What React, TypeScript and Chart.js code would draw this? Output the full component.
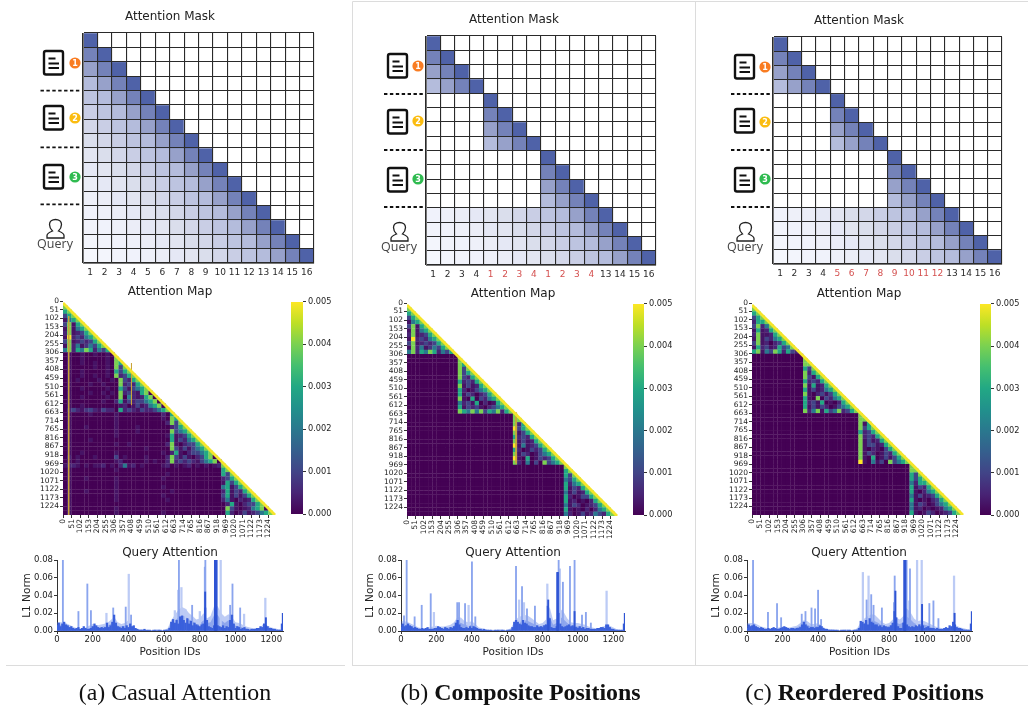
import React, { useEffect, useRef } from "react";
import { Chart, registerables } from "chart.js";
Chart.register(...registerables);

const FONT = "'DejaVu Sans'";

// ---------- Attention masks: hex digit = shade index (distance from diagonal), '.' = white
const maskShades = ["#4f62a8", "#7482b9", "#97a1ca", "#b4bcdc", "#bdc4e0", "#c9cee5", "#d3d7e9", "#dadeec", "#e2e5f1", "#e5e8f5", "#ebedf7", "#eef0f9", "#f0f2fb", "#f1f3fb", "#f3f5fc", "#f5f7fd"];
const maskRowsA = ["0...............", "10..............", "210.............", "3210............", "43210...........", "543210..........", "6543210.........", "76543210........", "876543210.......", "9876543210......", "a9876543210.....", "ba9876543210....", "cba9876543210...", "dcba9876543210..", "edcba9876543210.", "fedcba9876543210"];
const maskRowsB = ["0...............", "10..............", "210.............", "3210............", "....0...........", "....10..........", "....210.........", "....3210........", "........0.......", "........10......", "........210.....", "........3210....", "cba9876543210...", "dcba9876543210..", "edcba9876543210.", "fedcba9876543210"];
const maskLabelsA = ["1", "2", "3", "4", "5", "6", "7", "8", "9", "10", "11", "12", "13", "14", "15", "16"];
const maskLabelsB = ["1", "2", "3", "4", "1", "2", "3", "4", "1", "2", "3", "4", "13", "14", "15", "16"];
const maskLabelsC = ["1", "2", "3", "4", "5", "6", "7", "8", "9", "10", "11", "12", "13", "14", "15", "16"];
const INK = "#2a2a2a";
const RED = "#d4504f";
const maskLabelColorsA = Array(16).fill(INK);
const maskLabelColorsB = [INK, INK, INK, INK, RED, RED, RED, RED, RED, RED, RED, RED, INK, INK, INK, INK];

// ---------- Attention maps: digit = value in 0.001 units (a/b/c = 0.25/0.5/0.75), 25.5-position bins
const heatLevels: Record<string, number> = { "0": 0, a: 0.25, b: 0.5, c: 0.75, "1": 1, "2": 2, "3": 3, "4": 4, "5": 5 };
const heatTicks = [0, 51, 102, 153, 204, 255, 306, 357, 408, 459, 510, 561, 612, 663, 714, 765, 816, 867, 918, 969, 1020, 1071, 1122, 1173, 1224];
const heatRowsA = [
  "", "4", "34", "134", "a234", "14a34", "a4a234", "b4ab134", "a5b1b234", "14ab1b134", "a4b2ac2134", "24b3243b213",
  "0a00a00a00a0",
  "0a00a00000a04", "0a00a00a00a043", "0a00000a00a0414", "0a00a00000a03134", "0a00a00a00a04b134", "0a0a0000a00a041b34", "0a0000a00a0004b1b34", "0a00a00000a0031a1234", "0a0000a00a0a04b1ba34", "0a00a00000a00402bab34", "0a0000000a00b3a1b11234", "0a00a00000000ab0a1ab234", "0b1bac1ba1bb03b1ba1bb1234",
  "0a0000a00000a0000000000b03",
  "0a0000000000a0000000000a043", "0a0000000000a00000000000b414", "0a000a000000a0000a0000000b134", "0a0000000000a0000a000000041234", "0a0000000000a00000000000a3ab134", "0a0000a0000000000000000003a1b234", "0a0000000000a00a00000000b4a0b1134", "0a00000000000000000a0000041a1a1234", "0a00a0000000a0000000000a0b3a0b11234", "0b0a000a000010a0000a0000b41a1a0b134", "0a0a00000000ab00000a0a00b4b1b1ba1234",
  "abba0a0aab0a0b2ab0a0000ab0a0ab0a0a0ab4", "0a0000000000a00000000000000000000000034", "0a0000000000000000000000a000000000000314", "0a000a000000a0000000000a0000000000000b134", "0a0000000000a000000000000000000000000a3134", "0a0000000000a0000000000a000000000000023a134", "0a000a000000a000000000000a00000000000b3a1b34", "0a0000000000a0000000000a000000000000013a1a134", "0a0000000000a00000000000a000000000000b2a0bab34", "0a000000000000000000000000000000000000b3a0b1134", "0a0000000000a000000000000000000000000041a0ab234", "0a0000000000a0000000000a000000000000003b0a1ab1234",
];
const heatRowsB = [
  "", "4", "34", "134", "a234", "14a34", "a4a234", "b4ab134", "a5b1b234", "14ab1b134", "a4b2ac2134", "24b3243b213",
  "",
  "4", "43", "414", "4134", "41b34", "3b1b34", "4a1ab34", "3b0a1234", "3a1b0b134", "4a0301b234", "2b1a30b0a34", "3a1b1a0b1234", "4324241324b34",
  "4", "44", "4b3", "5134", "4a134", "3b1b34", "4a1ab34", "5a2ab134", "3b0a1b134", "4a1b0a1234", "5a030a1b134", "4b0201041234",
  "4", "34", "314", "2134", "3b234", "3a1b34", "2a1ab34", "3b0a1134", "3ab0a0b34", "2a1b0ab134", "3a0a0b0b234", "2b0a1ab21b34",
];
const heatRowsC = [
  "", "4", "34", "134", "b334", "14b24", "a3ab34", "b4aab34", "a4a1b234", "14ab0b134", "a3b1ab3124", "34a2143b31b",
  "",
  "4", "44", "314", "4b34", "41a34", "3b1b34", "4a3ab34", "3a1ab234", "4a0b1a134", "3a0401b234", "3b1a30a0b34", "3a1a1b0a1234", "4b24a3124b134",
  "4", "44", "4a3", "4134", "3b134", "4b1b34", "4a1ab34", "4a11ab34", "4a0ba0134", "4a1b0a1b34", "4a030a1a134", "5a02a1041234",
  "4", "44", "314", "3134", "2b334", "3a1b34", "3a0b234", "2a1ab134", "3a0a0b134", "2a1b0a1234", "2ab0a0ab234", "3a0a1b0ab134",
];
const viridisStops = ["#440154", "#482475", "#414487", "#355f8d", "#2a788e", "#21918c", "#22a884", "#44bf70", "#7ad151", "#bddf26", "#fde725"];
const streakA = [[34, 90], [34, 1275]];
const streakA2 = [[408, 370], [408, 620]];
const streakB = [[656, 655], [656, 960]];
const diagonalBand = [[0, 12], [1263, 1275]];

// ---------- Query attention, units of 0.001
const envelopeA = [10, 10, 10, 8, 6, 4, 3, 2, 4, 6, 8, 6, 7, 8, 9, 12, 16, 10, 8, 9, 12, 6, 3, 2, 2, 1, 1, 1, 2, 1, 1, 3, 12, 18, 24, 27, 25, 20, 17, 13, 14, 20, 14, 17, 28, 28, 20, 16, 19, 16, 10, 9, 7, 5, 4, 3, 3, 4, 9, 6, 4, 3, 2, 1];
const envelopeB = [11, 11, 10, 8, 6, 4, 3, 3, 4, 5, 6, 5, 5, 6, 7, 10, 16, 15, 11, 10, 11, 8, 4, 3, 2, 1, 1, 1, 2, 1, 1, 3, 10, 15, 17, 18, 17, 14, 11, 8, 9, 13, 27, 12, 14, 25, 21, 14, 10, 9, 9, 8, 7, 5, 4, 3, 3, 5, 6, 6, 4, 2, 1, 1];
const envelopeC = [9, 9, 9, 7, 5, 4, 3, 2, 3, 4, 5, 4, 4, 5, 6, 9, 12, 11, 8, 8, 9, 6, 3, 2, 2, 1, 1, 1, 2, 1, 1, 3, 10, 14, 17, 19, 18, 14, 10, 8, 9, 13, 15, 13, 17, 25, 21, 14, 11, 12, 11, 9, 7, 5, 4, 3, 3, 4, 6, 6, 4, 3, 2, 1];
const innerA = [7, 7, 6, 5, 4, 3, 2, 1, 2, 3, 5, 4, 4, 5, 5, 8, 11, 6, 5, 5, 7, 4, 2, 1, 1, 1, 0, 0, 1, 0, 0, 2, 8, 12, 15, 18, 16, 13, 11, 8, 8, 12, 9, 10, 18, 18, 12, 9, 12, 10, 6, 5, 4, 3, 2, 2, 2, 3, 5, 4, 2, 2, 1, 1];
const innerB = [7, 7, 6, 5, 4, 3, 2, 2, 2, 3, 4, 3, 3, 4, 4, 6, 10, 9, 7, 6, 7, 5, 2, 2, 1, 1, 0, 0, 1, 0, 0, 2, 6, 9, 11, 12, 11, 9, 7, 5, 6, 8, 16, 7, 9, 16, 13, 9, 6, 6, 5, 5, 4, 3, 2, 2, 2, 3, 4, 4, 2, 1, 1, 0];
const innerC = [6, 6, 6, 4, 3, 2, 2, 1, 2, 3, 3, 3, 3, 3, 4, 6, 8, 7, 5, 5, 6, 4, 2, 1, 1, 1, 0, 0, 1, 0, 0, 2, 6, 9, 11, 12, 11, 9, 6, 5, 6, 8, 9, 8, 10, 16, 13, 9, 7, 8, 7, 6, 4, 3, 2, 2, 2, 3, 4, 4, 2, 2, 1, 0];
const darkA = [6, 9, 5, 8, 10, 7, 6, 4, 5, 3, 2, 3, 4, 2, 3, 5, 3, 2, 2, 3, 5, 8, 6, 4, 3, 4, 3, 4, 9, 4, 6, 10, 18, 9, 5, 4, 3, 5, 3, 6, 4, 8, 5, 6, 3, 2, 1, 1, 1, 2, 1, 1, 1, 0, 1, 1, 0, 1, 1, 0, 1, 1, 1, 3, 10, 13, 9, 12, 8, 16, 17, 12, 9, 14, 8, 11, 6, 9, 7, 6, 5, 7, 8, 26, 12, 5, 4, 3, 6, 17, 6, 5, 4, 6, 3, 5, 4, 12, 18, 8, 3, 5, 4, 2, 3, 4, 2, 2, 1, 2, 2, 2, 3, 3, 5, 4, 8, 6, 5, 3, 3, 2, 2, 1, 1, 1, 8];
const darkB = [4, 8, 5, 6, 8, 6, 5, 3, 4, 3, 2, 2, 3, 2, 3, 4, 2, 2, 2, 3, 3, 5, 4, 3, 2, 4, 3, 2, 4, 3, 5, 9, 12, 7, 4, 3, 3, 4, 3, 5, 3, 5, 4, 3, 2, 2, 1, 2, 1, 1, 1, 1, 0, 1, 1, 1, 0, 1, 1, 0, 1, 1, 1, 4, 10, 12, 10, 8, 7, 12, 9, 8, 6, 5, 5, 4, 4, 6, 4, 5, 4, 6, 7, 28, 14, 4, 3, 3, 5, 20, 8, 5, 4, 5, 6, 7, 5, 6, 4, 4, 3, 5, 3, 4, 2, 3, 3, 2, 2, 2, 2, 3, 3, 4, 4, 3, 7, 7, 4, 2, 2, 1, 1, 1, 1, 1, 8];
const darkC = [3, 7, 5, 6, 7, 5, 4, 3, 4, 3, 2, 2, 3, 2, 3, 4, 3, 2, 2, 3, 4, 5, 4, 3, 2, 3, 3, 2, 3, 3, 4, 7, 10, 7, 5, 3, 4, 4, 3, 4, 4, 6, 5, 3, 2, 2, 1, 1, 1, 1, 1, 1, 0, 1, 1, 1, 0, 1, 1, 0, 1, 1, 1, 3, 11, 10, 8, 12, 7, 14, 10, 9, 7, 7, 5, 6, 4, 6, 5, 4, 4, 6, 9, 22, 15, 5, 3, 3, 9, 25, 7, 5, 4, 5, 4, 6, 5, 7, 5, 6, 3, 4, 5, 3, 3, 3, 2, 3, 2, 2, 2, 3, 4, 3, 6, 5, 10, 7, 4, 3, 3, 2, 1, 1, 1, 1, 8];
const spikesMidA = [[33, 80], [120, 22], [170, 53], [190, 23], [315, 26], [385, 27], [415, 18], [683, 80], [680, 46], [757, 29], [831, 80], [828, 72], [970, 29], [983, 53], [1026, 26]];
const spikesLightA = [[277, 20], [402, 64], [697, 49], [800, 22], [917, 80], [1048, 19], [1167, 37], [660, 23], [720, 24]];
const spikesDarkA = [[885, 80], [888, 80], [891, 80], [894, 80], [1265, 20], [830, 44], [1170, 15]];
const spikesMidB = [[32, 80], [17, 17], [77, 16], [117, 29], [168, 42], [318, 32], [328, 32], [362, 31], [401, 78], [420, 16], [650, 73], [684, 50], [712, 25], [757, 28], [891, 80], [915, 55], [955, 73], [981, 80], [1023, 18], [1045, 21], [1073, 9]];
const spikesLightB = [[186, 21], [382, 29], [668, 35], [695, 32], [827, 53], [898, 70], [1162, 45]];
const spikesDarkB = [[832, 35], [883, 66], [887, 66], [1265, 20], [981, 22]];
const spikesMidC = [[34, 80], [118, 21], [169, 31], [192, 15], [308, 19], [329, 22], [363, 26], [383, 25], [400, 46], [417, 13], [673, 35], [699, 41], [712, 29], [759, 26], [827, 32], [831, 62], [898, 80], [917, 70], [914, 34], [1026, 31], [1049, 34], [1077, 14]];
const spikesLightC = [[652, 66], [684, 62], [957, 80], [983, 80], [1165, 62]];
const spikesDarkC = [[835, 45], [885, 80], [888, 80], [891, 80], [1168, 20], [985, 30], [1265, 22]];

function viridis(t: number) {
  const p = Math.max(0, Math.min(0.9999, t)) * (viridisStops.length - 1);
  const i = Math.floor(p); const f = p - i;
  const rgb = (h: string) => [1, 3, 5].map((k) => parseInt(h.slice(k, k + 2), 16));
  const a = rgb(viridisStops[i]); const b = rgb(viridisStops[i + 1]);
  return `rgb(${a.map((v, k) => Math.round(v + (b[k] - v) * f)).join(",")})`;
}
type Box = { L: number; R: number; T: number; B: number; pl: number; pt: number; pr: number; pb: number };

function fixAxisW(w: number) { return (s: any) => { s.width = w; }; }
function fixAxisH(h: number) { return (s: any) => { s.height = h; }; }
// empty right-hand axis: reserves room without narrowing the title's box
function spacer(w: number) {
  return { position: "right", display: true, grid: { display: false }, border: { display: false }, ticks: { display: false }, afterFit: fixAxisW(w) };
}

function maskConfig(rows: string[], labels: string[], labelColors: string[], b: Box) {
  return {
    type: "bar",
    data: {
      labels,
      datasets: rows.map((row) => ({
        data: row.split("").map(() => 1),
        backgroundColor: row.split("").map((ch) => (ch === "." ? "#ffffff" : maskShades[parseInt(ch, 16)])),
        borderWidth: 0, categoryPercentage: 1, barPercentage: 1,
      })),
    },
    options: {
      animation: false, responsive: false,
      plugins: { legend: { display: false }, tooltip: { enabled: false },
        title: { display: true, text: "Attention Mask", color: "#222", font: { family: FONT, size: 12, weight: "normal", lineHeight: 1 }, padding: { top: 11, bottom: b.pt - 23 } } },
      scales: {
        x: { stacked: true, grid: { color: "#2a2a2a", lineWidth: 1.1, z: 1, drawTicks: false }, border: { color: "#777", width: 1, z: 2 },
          ticks: { color: (c: any) => labelColors[c.index], font: { family: FONT, size: 9, weight: "normal" }, padding: 4, maxRotation: 0, autoSkip: false }, afterFit: fixAxisH(b.pb) },
        y: { stacked: true, reverse: true, min: 0, max: 16, grid: { color: "#2a2a2a", lineWidth: 1.1, z: 1, drawTicks: false }, border: { color: "#777", width: 1, z: 2 },
          ticks: { display: false, stepSize: 1 }, afterFit: fixAxisW(b.pl) },
        spare: spacer(b.pr),
      },
    },
  };
}

function heatConfig(rows: string[], fullRows: boolean, streaks: number[][][], b: Box) {
  const pts: any[] = []; const colors: string[] = [];
  rows.forEach((row, r) => {
    const cells = (fullRows ? row.padEnd(r, "0") : row.padStart(r, "0")).slice(0, r);
    cells.split("").forEach((ch, c) => {
      pts.push({ x: (c + 0.5) * 25.5, y: (r + 0.5) * 25.5 });
      colors.push(viridis(((heatLevels[ch] ?? 0) * 0.001) / 0.005));
    });
  });
  const lineSet = (p: number[][], col: string, w: number) => ({ data: p.map(([x, y]) => ({ x, y })), showLine: true, pointRadius: 0, borderColor: col, borderWidth: w, fill: false });
  return {
    type: "scatter",
    data: {
      datasets: [
        lineSet(diagonalBand, "#f6e52a", 2.8),
        ...streaks.map((s) => lineSet(s, "#c9a43c", 1)),
        { data: pts, pointStyle: "rect", pointRadius: 3.2, pointHoverRadius: 3.2, pointBorderWidth: 0, pointBackgroundColor: colors, showLine: false },
      ],
    },
    options: {
      animation: false, responsive: false,
      plugins: { legend: { display: false }, tooltip: { enabled: false },
        title: { display: true, text: "Attention Map", color: "#222", font: { family: FONT, size: 12, weight: "normal", lineHeight: 1 }, padding: { top: 3, bottom: b.pt - 15 } } },
      scales: {
        x: { type: "linear", min: 0, max: 1275, grid: { drawOnChartArea: false, tickLength: 3, color: "#333" }, border: { display: false },
          afterBuildTicks: (s: any) => { s.ticks = heatTicks.map((value) => ({ value })); },
          ticks: { autoSkip: false, minRotation: 90, maxRotation: 90, color: "#222", font: { family: FONT, size: 7.5 }, padding: 1, callback: (v: any) => String(v) }, afterFit: fixAxisH(b.pb) },
        y: { type: "linear", reverse: true, min: 0, max: 1275, grid: { drawOnChartArea: false, tickLength: 3, color: "#333" }, border: { display: false },
          afterBuildTicks: (s: any) => { s.ticks = heatTicks.map((value) => ({ value })); },
          ticks: { autoSkip: false, color: "#222", font: { family: FONT, size: 7.5 }, padding: 1, callback: (v: any) => String(v) }, afterFit: fixAxisW(b.pl) },
        spare: spacer(b.pr),
      },
    },
  };
}

function colorbarConfig(b: Box) {
  return {
    type: "bar",
    data: {
      labels: [""],
      datasets: [{
        data: [0.005], categoryPercentage: 1, barPercentage: 1, borderWidth: 0,
        backgroundColor: (c: any) => {
          const a = c.chart.chartArea;
          if (!a) return "#440154";
          const g = c.chart.ctx.createLinearGradient(0, a.bottom, 0, a.top);
          viridisStops.forEach((s, i) => g.addColorStop(i / (viridisStops.length - 1), s));
          return g;
        },
      }],
    },
    options: {
      animation: false, responsive: false,
      layout: { padding: { left: b.pl, top: b.pt } },
      plugins: { legend: { display: false }, tooltip: { enabled: false } },
      scales: {
        x: { display: false },
        y: { position: "right", min: 0, max: 0.005, grid: { drawOnChartArea: false, tickLength: 3, color: "#333" }, border: { display: false },
          ticks: { stepSize: 0.001, color: "#222", font: { family: FONT, size: 8.2 }, padding: 2, callback: (v: any) => Number(v).toFixed(3) }, afterFit: fixAxisW(b.pr) },
      },
    },
  };
}

function queryConfig(env: number[], inner: number[], dark: number[], mid: number[][], light: number[][], hard: number[][], b: Box) {
  const pairs = (p: number[][]) => p.map(([x, y]) => ({ x, y: y / 1000 }));
  const bar = (p: any[], col: string, w: number, order: number) => ({ type: "bar", data: p, backgroundColor: col, barThickness: w, borderWidth: 0, order, grouped: false });
  const area = (vals: number[], col: string, order: number) => ({ type: "line", data: vals.map((v, i) => ({ x: i * 20, y: v / 1000 })), borderWidth: 0, pointRadius: 0, fill: "origin", backgroundColor: col, order, tension: 0 });
  return {
    type: "bar",
    data: {
      datasets: [
        bar(pairs(hard), "#2f55d4", 1.3, 1),
        bar(dark.map((v, i) => ({ x: i * 10, y: v / 1000 })), "#3a60dc", 1.6, 2),
        bar(pairs(mid), "#8ba5ee", 1.2, 3),
        bar(pairs(light), "#bccbf5", 1.6, 4),
        area(inner, "rgba(65,105,225,0.38)", 5),
        area(env, "rgba(65,105,225,0.34)", 6),
      ],
    },
    options: {
      animation: false, responsive: false,
      plugins: { legend: { display: false }, tooltip: { enabled: false },
        title: { display: true, text: "Query Attention", color: "#222", font: { family: FONT, size: 12, weight: "normal", lineHeight: 1 }, padding: { top: 3, bottom: b.pt - 15 } } },
      scales: {
        x: { type: "linear", offset: false, min: 0, max: 1266, grid: { offset: false, drawOnChartArea: false, tickLength: 3, color: "#333" }, border: { color: "#333" },
          ticks: { stepSize: 200, includeBounds: false, maxRotation: 0, color: "#222", font: { family: FONT, size: 8.5 }, padding: 1, callback: (v: any) => String(v) },
          title: { display: true, text: "Position IDs", color: "#222", font: { family: FONT, size: 10.5 }, padding: 0 }, afterFit: fixAxisH(b.pb) },
        y: { min: 0, max: 0.08, grid: { drawOnChartArea: false, tickLength: 3, color: "#333" }, border: { color: "#333" },
          ticks: { stepSize: 0.02, color: "#222", font: { family: FONT, size: 8.5 }, padding: 1, callback: (v: any) => Number(v).toFixed(2) },
          title: { display: true, text: "L1 Norm", color: "#222", font: { family: FONT, size: 10.5 }, padding: { top: 11, bottom: 0 } }, afterFit: fixAxisW(b.pl) },
        spare: spacer(b.pr),
      },
    },
  };
}

const cfgs: { box: Box; make: (b: Box) => any }[] = [
  { box: { L: 20, R: 320, T: 0, B: 285, pl: 63, pr: 6, pt: 33, pb: 22 }, make: (b) => maskConfig(maskRowsA, maskLabelsA, maskLabelColorsA, b) },
  { box: { L: 365, R: 663, T: 3, B: 288, pl: 61, pr: 7, pt: 33, pb: 23 }, make: (b) => maskConfig(maskRowsB, maskLabelsB, maskLabelColorsB, b) },
  { box: { L: 710, R: 1008, T: 4, B: 288, pl: 63, pr: 6, pt: 33, pb: 24 }, make: (b) => maskConfig(maskRowsB, maskLabelsC, maskLabelColorsB, b) },
  { box: { L: 20, R: 320, T: 283, B: 548, pl: 43, pr: 43, pt: 18, pb: 33 }, make: (b) => heatConfig(heatRowsA, true, [streakA, streakA2], b) },
  { box: { L: 365, R: 661, T: 285, B: 548, pl: 42, pr: 42, pt: 18, pb: 32 }, make: (b) => heatConfig(heatRowsB, false, [streakB], b) },
  { box: { L: 709, R: 1009, T: 285, B: 548, pl: 43, pr: 44, pt: 18, pb: 33 }, make: (b) => heatConfig(heatRowsC, false, [], b) },
  { box: { L: 285, R: 345, T: 295, B: 521, pl: 6, pr: 42, pt: 6, pb: 6 }, make: colorbarConfig },
  { box: { L: 627, R: 687, T: 297, B: 522, pl: 6, pr: 43, pt: 6, pb: 6 }, make: colorbarConfig },
  { box: { L: 974, R: 1028, T: 297, B: 522, pl: 6, pr: 37, pt: 6, pb: 6 }, make: colorbarConfig },
  { box: { L: 10, R: 330, T: 544, B: 659, pl: 47, pr: 47, pt: 16, pb: 28 }, make: (b) => queryConfig(envelopeA, innerA, darkA, spikesMidA, spikesLightA, spikesDarkA, b) },
  { box: { L: 353, R: 673, T: 544, B: 659, pl: 48, pr: 48, pt: 16, pb: 28 }, make: (b) => queryConfig(envelopeB, innerB, darkB, spikesMidB, spikesLightB, spikesDarkB, b) },
  { box: { L: 699, R: 1019, T: 544, B: 659, pl: 48, pr: 47, pt: 16, pb: 28 }, make: (b) => queryConfig(envelopeC, innerC, darkC, spikesMidC, spikesLightC, spikesDarkC, b) },
];

function ChartBox({ box, make }: { box: Box; make: (b: Box) => any }) {
  const ref = useRef<HTMLCanvasElement | null>(null);
  useEffect(() => {
    const chart = new Chart(ref.current as any, make(box));
    return () => chart.destroy();
  }, []);
  return <canvas ref={ref} width={box.R - box.L} height={box.B - box.T}
    style={{ position: "absolute", left: box.L, top: box.T, width: box.R - box.L, height: box.B - box.T }} />;
}

function Doc({ x, y, cx, cy, color, n }: any) {
  return (
    <g>
      <rect x={x + 1} y={y + 1} width={19} height={23.5} rx={2} fill="#fff" stroke="#111" strokeWidth={2.4} />
      <path d={`M${x + 5.5} ${y + 8.5}H${x + 12.5}M${x + 5.5} ${y + 13.5}H${x + 16}M${x + 5.5} ${y + 18}H${x + 16}`} stroke="#111" strokeWidth={1.9} />
      <circle cx={cx} cy={cy} r={5.6} fill={color} />
      <text x={cx} y={cy + 2.8} textAnchor="middle" fontSize={8} fontWeight="bold" fontFamily={FONT} fill="#fff">{n}</text>
    </g>
  );
}
function Annot({ dx, docX, docY, cx, cy, dots, qx, qy, qty }: any) {
  return (
    <g>
      <Doc x={docX} y={docY[0]} cx={cx} cy={cy[0]} color="#f97c22" n="1" />
      <Doc x={docX} y={docY[1]} cx={cx} cy={cy[1]} color="#fbbc10" n="2" />
      <Doc x={docX} y={docY[2]} cx={cx} cy={cy[2]} color="#2fbb50" n="3" />
      {dots.map((y: number) => <line key={y} x1={dx} x2={dx + 40} y1={y} y2={y} stroke="#111" strokeWidth={1.8} strokeDasharray="3.4 2.5" />)}
      <path d={`M${qx - 9} ${qy + 17}v-2.5c0-2 2-3 5.5-4.5c-2-2-3-4-3-6.5c0-3 2.6-5 6-5c3.4 0 6 2 6 5c0 2.5-1 4.5-3 6.5c3.5 1.5 5.5 2.5 5.5 4.5v2.5z`} fill="none" stroke="#222" strokeWidth={1.3} />
      <text x={qx - 1} y={qty} textAnchor="middle" fontSize={12.5} fontFamily="'Open Sans'" fill="#444">Query</text>
    </g>
  );
}

export default function App() {
  const cap: React.CSSProperties = { position: "absolute", top: 678, fontFamily: "'Liberation Serif'", fontSize: 23.9, color: "#111", whiteSpace: "nowrap", transform: "translateX(-50%)", lineHeight: "28px" };
  return (
    <div style={{ position: "absolute", left: 0, top: 0, width: 1028, height: 709, background: "#fff", overflow: "hidden", filter: "blur(0.5px)" }}>
      {cfgs.map((c, i) => <ChartBox key={i} box={c.box} make={c.make} />)}
      <svg width={1028} height={709} style={{ position: "absolute", left: 0, top: 0, pointerEvents: "none" }}>
        <path d="M6 665.5H345M352.5 665V1.5H1028M352 665.5H695M695.5 1V665M695 665.5H1028" fill="none" stroke="#dcdcdc" strokeWidth={1} />
        <Annot dx={40.5} docX={43} docY={[50, 105, 164]} cx={75} cy={[63, 118, 177]} dots={[90.7, 147.3, 204.3]} qx={56} qy={221} qty={248} />
        <Annot dx={384} docX={387} docY={[53, 109, 167]} cx={418} cy={[66, 121, 179]} dots={[94, 150, 207]} qx={400} qy={224} qty={251} />
        <Annot dx={731} docX={734} docY={[54, 108, 167]} cx={765} cy={[67, 122, 179]} dots={[94, 150, 207]} qx={746} qy={224} qty={251} />
      </svg>
      <div style={{ ...cap, left: 175 }}>(a) Casual Attention</div>
      <div style={{ ...cap, left: 520.5 }}>(b) <b>Composite Positions</b></div>
      <div style={{ ...cap, left: 864.5 }}>(c) <b>Reordered Positions</b></div>
    </div>
  );
}
